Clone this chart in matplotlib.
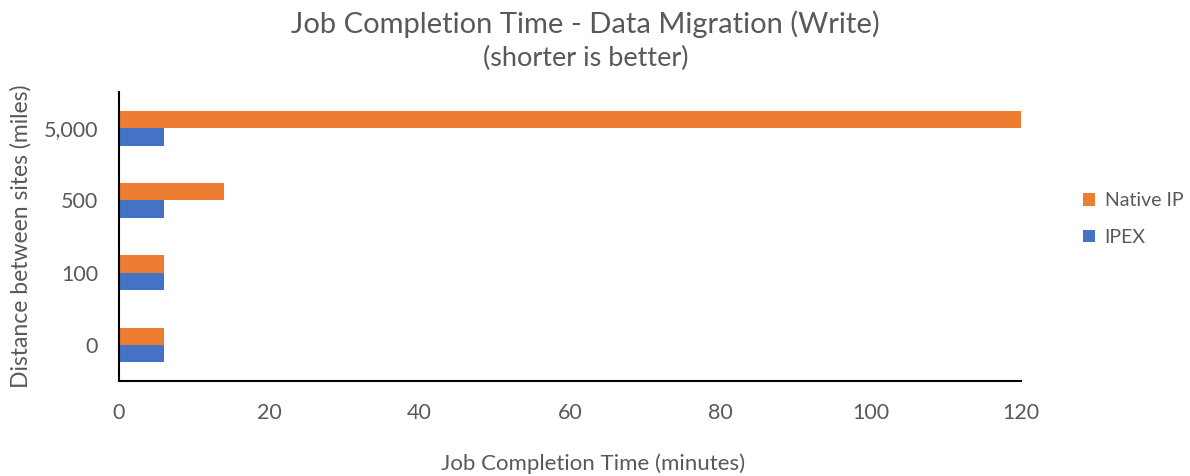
import matplotlib.pyplot as plt
import numpy as np

plt.rcParams['font.family'] = ['Lato', 'DejaVu Sans']

# Data (bottom to top)
distances = ['0', '100', '500', '5,000']
native_ip = [6, 6, 14, 120]
ipex = [6, 6, 6, 6]

ORANGE = '#ED7D31'
BLUE = '#4472C4'
GRAY = '#595959'

fig = plt.figure(figsize=(11.9, 4.76), dpi=100)
ax = fig.add_axes([0.1, 0.1996, 0.758, 0.607])

y = np.arange(len(distances))
h = 0.24
ax.barh(y - h / 2, ipex, height=h, color=BLUE, label='IPEX')
ax.barh(y + h / 2, native_ip, height=h, color=ORANGE, label='Native IP')

ax.set_xlim(0, 120)
ax.set_ylim(-0.5, 3.5)
ax.set_xticks(range(0, 121, 20))
ax.set_yticks(y)
ax.set_yticklabels(distances)
ax.tick_params(axis='both', length=0, labelsize=15.5, colors=GRAY)
ax.tick_params(axis='y', pad=15)
ax.tick_params(axis='x', pad=16)

for s in ['top', 'right']:
    ax.spines[s].set_visible(False)
for s in ['left', 'bottom']:
    ax.spines[s].set_color('black')
    ax.spines[s].set_linewidth(1.5)

ax.set_xlabel('Job Completion Time (minutes)', fontsize=16, color=GRAY, labelpad=22)
ax.xaxis.label.set_x(0.5255)
ax.set_ylabel('Distance between sites (miles)', fontsize=16.5, color=GRAY, labelpad=9)

fig.text(0.492, 0.95, 'Job Completion Time - Data Migration (Write)', ha='center', va='center',
         fontsize=21, color=GRAY)
fig.text(0.492, 0.878, '(shorter is better)', ha='center', va='center', fontsize=19.5, color=GRAY)

handles, labels = ax.get_legend_handles_labels()
leg = fig.legend(handles[::-1], labels[::-1], loc='center left', bbox_to_anchor=(0.8955, 0.54),
                 frameon=False, fontsize=14, handlelength=0.6, handleheight=0.6,
                 labelspacing=1.0, handletextpad=0.5)
for t in leg.get_texts():
    t.set_color(GRAY)

fig.savefig('out.png', dpi=100, facecolor='white')
